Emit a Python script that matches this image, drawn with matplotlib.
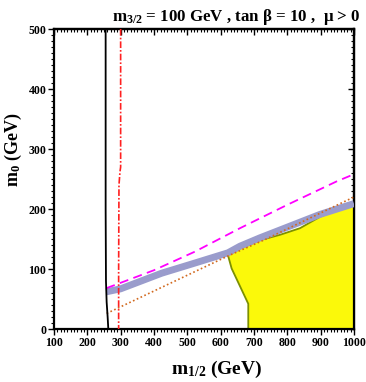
import matplotlib
matplotlib.use("Agg")
import matplotlib.pyplot as plt
from matplotlib.ticker import MultipleLocator, NullFormatter

plt.rcParams['font.family'] = ['Liberation Serif', 'DejaVu Serif']
plt.rcParams['mathtext.fontset'] = 'custom'
plt.rcParams['mathtext.rm'] = 'Liberation Serif:bold'
plt.rcParams['mathtext.bf'] = 'Liberation Serif:bold'
plt.rcParams['mathtext.it'] = 'Liberation Serif:bold'

# Black solid line (LEP chargino-like limit)
black_x = [255, 255, 256, 258, 261, 263]
black_y = [500, 200, 80, 45, 20, 0]

# Red dash-dot (Higgs-like limit)
red_x = [300, 300, 298, 295, 294, 294]
red_y = [500, 270, 262, 240, 100, 0]

# Magenta dashed
mag_x = [257, 400, 523, 658, 800, 948, 1000]
mag_y = [68, 98, 129, 168, 207, 246, 258]

# Blue band (relic density region)
band_x = [257, 300, 423, 523, 622, 658, 718, 778, 838, 898, 1000]
band_y = [62, 67, 93, 110, 127, 138, 152, 165, 178, 191, 209]

# Orange dotted
org_x = [258, 623, 733, 1000]
org_y = [26, 122, 149, 220]

# Yellow region boundary
yel_x = [683, 683, 633, 622, 658, 718, 778, 838, 898, 958, 1000, 1000]
yel_y = [0, 42, 101, 123, 134, 148, 157, 168, 187, 201, 207, 0]

fig = plt.figure(figsize=(3.66, 3.82), dpi=100)
ax = fig.add_axes([0.1475, 0.1387, 0.8195, 0.7853])

ax.fill(yel_x, yel_y, facecolor='#fbf90a', edgecolor='#7d9000', linewidth=1.3, zorder=2)
ax.plot(band_x, band_y, color='#9a9ccc', linewidth=5.0, solid_capstyle='butt', zorder=3)
ax.plot(org_x, org_y, color='#d2691e', linestyle=(0, (1, 1.5)), linewidth=1.2, zorder=4)
ax.plot(mag_x, mag_y, color='#ff00ff', linestyle=(0, (5, 3)), linewidth=1.3, zorder=4)
ax.plot(red_x, red_y, color='#ff2020', linestyle=(0, (4, 1.2, 1, 1.2)), linewidth=1.2, zorder=4)
ax.plot(black_x, black_y, color='black', linewidth=1.3, zorder=5)

ax.set_xlim(100, 1000)
ax.set_ylim(0, 500)
for axis in (ax.xaxis, ax.yaxis):
    axis.set_major_locator(MultipleLocator(100))
    axis.set_minor_locator(MultipleLocator(10))
for s in ax.spines.values():
    s.set_linewidth(1.6)
ax.tick_params(which='major', direction='out', length=4, width=1, labelsize=8.5, pad=1.5)
ax.tick_params(which='minor', direction='out', length=2, width=0.8)
for lab in ax.get_xticklabels() + ax.get_yticklabels():
    lab.set_fontweight('bold')

# inward ticks on top and right
top = ax.secondary_xaxis('top')
right = ax.secondary_yaxis('right')
for sec in (top, right):
    axis = sec.xaxis if sec is top else sec.yaxis
    axis.set_major_locator(MultipleLocator(100))
    axis.set_minor_locator(MultipleLocator(10))
    axis.set_major_formatter(NullFormatter())
    sec.tick_params(which='major', direction='in', length=4, width=1)
    sec.tick_params(which='minor', direction='in', length=2, width=0.8)
    for s in sec.spines.values():
        s.set_linewidth(1.6)

ax.set_xlabel(r'$\mathbf{m_{1/2}}$ (GeV)', fontsize=14, fontweight='bold')
ax.xaxis.set_label_coords(0.543, -0.10)
ax.set_ylabel(r'$\mathbf{m_{0}}$ (GeV)', fontsize=13, fontweight='bold')
ax.yaxis.set_label_coords(-0.10, 0.597)
fig.text(0.985, 0.955, r'$\mathbf{m_{3/2}}$ = 100 GeV , tan β = 10 ,  μ > 0',
         ha='right', va='center', fontsize=12.2, fontweight='bold')

fig.savefig('out.png', dpi=100)
